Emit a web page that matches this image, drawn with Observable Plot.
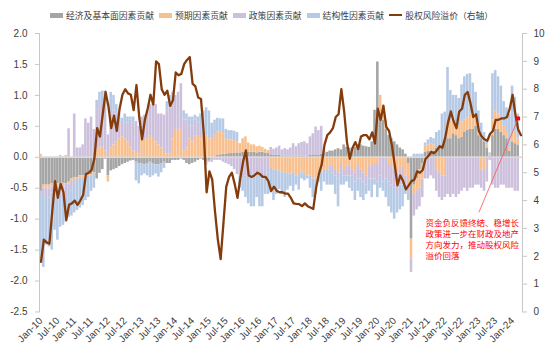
<!DOCTYPE html>
<html><head><meta charset="utf-8">
<script src="https://cdn.jsdelivr.net/npm/d3@7"></script>
<script src="https://cdn.jsdelivr.net/npm/@observablehq/plot@0.6"></script>
<style>
body{margin:0;background:#fff;}
#legend{height:22px;box-sizing:border-box;padding-top:8px;padding-left:50px;display:flex;align-items:center;font-family:"Noto Sans CJK SC",sans-serif;font-size:8.8px;color:#404040;white-space:nowrap;}
#legend .item{display:flex;align-items:center;margin-right:5px;}
#legend .sw{width:13px;height:5px;margin-right:3px;}
#legend .ln{width:13px;height:2px;margin-right:3px;}
</style></head><body>
<div id="legend"></div>
<div id="chart"></div>
<script>
// ---- categories / labels ----
const seriesNames = ["经济及基本面因素贡献","预期因素贡献","政策因素贡献","结构性因素贡献"];
const seriesColors = ["#a5a5a5","#f9c08f","#cdc0dd","#b6cae6"];
const lineName = "股权风险溢价（右轴）";
const lineColor = "#843c0c";
const startYear = 2010;
const monthAbbr = ["Jan","Feb","Mar","Apr","May","Jun","Jul","Aug","Sep","Oct","Nov","Dec"];
const monthCount = 172;
const leftTicks = [-2.5,-2.0,-1.5,-1.0,-0.5,0.0,0.5,1.0,1.5,2.0];
const rightTicks = [0,1,2,3,4,5,6,7,8,9,10];

// ---- series values (monthly, from Jan-10) ----
const gray = [
-0.55,-0.45,-0.45,-0.45,-0.43,-0.45,-0.43,-0.42,-0.42,-0.43,-0.40,-0.35,
-0.33,-0.33,-0.30,-0.30,-0.30,-0.28,-0.28,-0.25,-0.35,-0.26,-0.20,-0.03,
-0.30,-0.22,-0.20,-0.18,-0.15,-0.12,-0.10,-0.08,-0.06,-0.05,-0.08,-0.10,
-0.10,-0.12,-0.10,-0.08,-0.10,-0.12,-0.12,-0.10,-0.08,-0.10,-0.10,-0.05,
-0.05,-0.05,-0.03,-0.05,-0.10,-0.12,-0.10,-0.08,-0.05,-0.03,-0.05,-0.08,
-0.05,-0.03,0.00,0.03,0.04,0.05,0.05,0.06,0.06,0.07,0.07,0.07,
0.08,0.08,0.08,0.08,0.08,0.07,0.08,0.08,0.07,0.06,0.04,0.03,
0.03,0.03,0.02,0.02,0.02,-0.02,0.02,0.02,0.02,0.02,-0.03,0.02,
0.03,0.03,0.04,0.03,0.05,0.06,0.08,0.10,0.10,0.12,0.14,0.12,
0.20,0.16,0.15,0.14,0.16,0.20,0.20,0.18,0.17,0.16,0.25,0.76,
1.54,0.70,0.60,0.45,0.35,0.30,0.25,0.20,0.15,0.12,0.05,-0.10,
-1.32,-0.45,-0.35,-0.20,-0.10,0.08,0.10,0.10,0.10,0.15,0.18,0.20,
0.28,0.30,0.30,0.38,0.35,0.30,0.32,0.40,0.44,0.45,0.45,0.50,
0.35,0.30,0.25,0.15,0.02,0.35,0.45,0.45,0.40,0.35,0.30,0.10,
0.25,0.22,0.20];
const orange = [
0.05,-0.05,-0.05,-0.06,-0.05,-0.03,-0.03,0.03,-0.04,0.03,-0.03,-0.04,
-0.03,-0.03,-0.03,-0.03,-0.03,-0.03,-0.03,-0.03,0.12,0.15,0.17,0.10,
-0.10,0.15,0.20,0.25,0.30,0.33,0.30,0.25,0.15,0.10,0.08,0.05,
0.30,0.28,0.30,0.35,0.32,0.25,0.20,0.15,0.08,0.05,0.05,0.30,
0.45,0.45,0.45,0.10,0.15,0.30,0.25,0.35,0.35,0.30,0.35,0.35,
0.30,0.30,0.35,0.38,0.38,0.35,0.25,0.22,0.22,0.20,0.18,0.15,
0.22,0.25,0.15,0.12,0.12,0.10,0.10,0.08,0.06,0.05,-0.18,-0.20,
-0.20,-0.22,-0.25,-0.25,-0.28,-0.25,-0.25,-0.30,-0.28,-0.25,-0.25,-0.30,
-0.30,-0.35,-0.35,-0.30,-0.25,-0.20,-0.20,-0.15,-0.15,-0.20,-0.25,-0.10,
-0.20,-0.15,-0.15,-0.20,-0.25,-0.15,-0.20,-0.25,-0.30,-0.15,-0.15,-0.10,
-0.10,0.30,0.25,0.15,-0.10,-0.15,-0.20,-0.25,-0.20,-0.15,-0.30,-0.35,
-0.32,-0.15,-0.20,-0.30,-0.25,0.10,0.10,0.12,0.10,-0.20,-0.25,-0.30,
-0.30,0.25,0.28,0.22,0.20,0.20,0.25,0.20,0.20,0.25,0.20,0.15,
0.15,-0.20,-0.20,0.05,0.02,0.25,0.30,0.25,0.20,0.15,0.10,0.05,
0.15,0.20,0.10];
const purple = [
-0.05,-0.10,-0.15,-0.15,-0.10,-0.15,-0.20,-0.20,-0.20,-0.25,0.46,-0.15,
0.70,0.15,0.15,0.20,0.62,0.55,0.65,0.45,0.64,0.75,0.70,0.80,
0.36,0.55,0.55,0.45,0.30,0.25,0.25,0.30,0.45,0.45,0.50,0.45,
0.35,0.40,0.45,0.50,0.55,0.60,0.50,0.55,0.60,0.70,0.75,0.65,
0.50,0.60,0.74,0.50,0.45,0.20,0.25,0.25,0.20,0.10,0.05,-0.05,
-0.03,-0.05,-0.05,-0.05,-0.05,-0.08,-0.10,-0.12,-0.15,-0.20,-0.28,-0.30,
-0.35,-0.30,-0.30,-0.30,-0.25,-0.25,-0.30,-0.35,-0.30,-0.25,0.12,0.10,
0.12,0.15,0.10,0.12,0.10,0.15,0.20,0.15,0.20,0.22,0.25,0.20,
0.30,0.35,0.45,0.40,0.45,0.05,-0.05,-0.05,-0.10,-0.10,-0.10,-0.15,
-0.10,-0.15,-0.15,-0.10,-0.15,-0.20,-0.15,-0.15,-0.15,-0.20,-0.20,-0.25,
-0.30,-0.30,-0.40,-0.35,-0.30,-0.30,-0.30,-0.35,-0.25,-0.30,-0.20,-0.15,
-0.22,-0.35,-0.30,-0.30,-0.30,-0.35,-0.35,-0.30,-0.35,-0.35,-0.40,-0.40,
-0.35,-0.60,-0.65,-0.60,-0.65,-0.60,-0.55,-0.50,-0.55,-0.50,-0.50,-0.45,
-0.45,-0.30,-0.35,-0.40,-0.05,-0.45,-0.50,-0.50,-0.45,-0.45,-0.50,-0.50,
-0.50,-0.55,-0.55];
const blue = [
-1.07,-1.18,-0.77,-0.79,-0.92,-0.55,-0.68,-0.51,-0.44,-0.37,-0.54,-0.41,
-0.54,-0.50,-0.49,-0.45,-0.37,-0.34,-0.24,-0.22,0.16,0.15,0.20,0.17,
0.00,0.35,0.25,0.15,0.10,0.05,0.15,0.10,0.05,0.10,-0.30,-0.33,
-0.20,-0.15,-0.20,-0.25,-0.20,-0.15,-0.20,-0.15,-0.10,0.15,0.20,0.10,
0.05,0.00,0.00,0.15,0.10,0.15,0.15,0.08,0.10,0.30,0.35,0.45,
0.45,0.25,0.25,0.22,0.20,0.22,0.15,0.15,0.15,0.15,0.15,-0.20,
-0.20,-0.35,-0.45,-0.50,-0.55,-0.40,-0.50,-0.45,-0.30,-0.35,-0.40,-0.50,
-0.40,-0.30,-0.35,-0.40,-0.25,-0.20,-0.30,-0.15,-0.25,-0.10,-0.10,-0.05,
-0.20,-0.30,-0.25,-0.10,-0.30,-0.20,-0.20,-0.25,-0.20,-0.30,-0.45,-0.20,
-0.15,-0.10,-0.20,-0.25,-0.30,-0.20,-0.30,-0.30,-0.15,-0.20,-0.30,-0.10,
-0.25,-0.20,-0.15,-0.30,-0.40,-0.45,-0.50,-0.30,-0.40,-0.35,-0.10,-0.10,
0.00,0.05,0.05,0.05,0.05,0.05,0.08,0.10,0.10,0.25,0.25,0.50,
0.45,0.90,0.50,0.40,0.45,0.45,0.60,0.70,0.70,0.65,0.55,0.40,
0.25,0.25,0.15,0.08,0.03,0.75,0.65,0.60,0.55,0.40,0.40,0.55,
0.75,0.55,0.40];
// equity risk premium (right axis, %)
const erp = [
1.8,2.6,2.5,2.45,3.6,4.7,4.1,4.6,4.3,3.3,3.85,3.9,
4.0,3.85,4.0,4.2,4.95,5.0,5.1,5.5,6.6,6.3,7.1,7.9,
7.4,6.6,7.05,6.5,7.3,7.8,8.0,7.85,7.8,7.25,8.15,7.0,
6.2,6.9,7.3,7.8,7.45,9.0,8.9,8.0,7.8,7.95,7.4,7.6,
8.6,8.5,8.55,8.9,9.05,9.15,8.2,8.1,7.7,7.65,6.4,4.3,
5.05,4.75,3.6,2.6,1.9,3.2,4.5,4.85,5.0,4.6,4.1,4.8,
5.4,5.8,4.9,4.85,4.9,5.0,4.95,4.85,4.85,4.7,4.35,4.5,
4.35,4.3,4.3,4.25,4.25,4.1,3.9,3.88,3.87,3.8,3.9,3.8,
3.75,3.7,4.45,4.95,5.3,6.0,6.35,6.45,6.6,7.0,7.1,8.0,
7.2,6.1,5.5,5.9,6.1,5.85,6.3,6.35,6.35,6.2,6.45,6.05,
7.3,6.9,7.4,6.65,6.5,6.0,5.3,4.55,4.9,4.7,4.4,4.55,
4.7,4.75,5.05,5.0,5.1,5.5,5.6,5.75,5.7,5.8,5.95,5.9,
6.25,6.8,7.2,6.85,6.6,7.2,7.3,7.8,7.9,7.5,7.0,7.1,
6.5,6.3,6.2,6.15,6.4,6.5,6.9,6.9,6.95,6.95,7.0,7.3,
7.8,7.1,6.55,6.35];

// ---- annotation (data coordinates) ----
const annLines = ["资金负反馈终结、稳增长","政策进一步在财政及地产","方向发力，推动股权风险","溢价回落"];
const annTextAt = {month: "Jun-21", y: -1.32};
const annArrowFrom = {month: "Jan-23", y: -0.89};
const annArrowTo = {month: "Mar-24", erp: 6.95};

// ---- build tables ----
const months = d3.range(monthCount).map(k => monthAbbr[k % 12] + "-" + String((startYear + Math.floor(k / 12)) % 100).padStart(2, "0"));
const tickMonths = months.filter((_, k) => k % 6 === 0);
const seriesValues = [gray, orange, purple, blue];
const barData = [];
months.forEach((m, k) => {
  seriesValues.forEach((arr, s) => {
    if (k < arr.length) barData.push({month: m, series: seriesNames[s], value: arr[k]});
  });
});
const lineData = erp.map((v, k) => ({month: months[k], value: v}));
const toLeft = d3.scaleLinear().domain([0, 10]).range([-2.5, 2]);

// ---- legend ----
const legend = document.getElementById("legend");
seriesNames.forEach((n, s) => {
  legend.insertAdjacentHTML("beforeend", `<div class="item"><div class="sw" style="background:${seriesColors[s]}"></div><span>${n}</span></div>`);
});
legend.insertAdjacentHTML("beforeend", `<div class="item"><div class="ln" style="background:${lineColor}"></div><span>${lineName}</span></div>`);

const font = "'Liberation Sans', Arial, sans-serif";
const chart = Plot.plot({
  width: 550, height: 337,
  marginTop: 11, marginBottom: 47.5, marginLeft: 39, marginRight: 28,
  style: {fontFamily: font, fontSize: "10px", color: "#404040", background: "#fff"},
  x: {type: "band", domain: months, padding: 0.08, axis: null},
  y: {domain: [-2.5, 2], axis: null},
  color: {domain: seriesNames, range: seriesColors},
  marks: [
    Plot.barY(barData, {x: "month", y: "value", fill: "series"}),
    Plot.ruleY([0], {stroke: "#d9d9d9", strokeWidth: 1.5}),
    Plot.frame({anchor: "left", stroke: "#c8c8c8"}),
    Plot.frame({anchor: "right", stroke: "#c8c8c8"}),
    Plot.line(lineData, {x: "month", y: d => toLeft(d.value), stroke: lineColor, strokeWidth: 2.3, strokeLinejoin: "round"}),
    Plot.axisX({ticks: tickMonths, tickRotate: -45, tickSize: 0, tickPadding: 7, label: null, fill: "#404040"}),
    Plot.axisY({ticks: leftTicks, anchor: "left", tickFormat: d => d.toFixed(1), tickSize: 4, tickPadding: 8, label: null, stroke: "#c8c8c8", fill: "#404040"}),
    Plot.axisY(rightTicks, {anchor: "right", y: d => toLeft(d), tickFormat: d => String(d), tickSize: 4, tickPadding: 7, label: null, stroke: "#c8c8c8", fill: "#404040"}),
    Plot.link([{a: annArrowFrom, b: annArrowTo}], {x1: d => d.a.month, y1: d => d.a.y, x2: d => d.b.month, y2: d => toLeft(d.b.erp), stroke: "#ff5050", strokeWidth: 0.8}),
    Plot.dot([annArrowTo], {x: "month", y: d => toLeft(d.erp), symbol: "square", r: 2.2, fill: "#ff0000", stroke: "none"}),
    Plot.text([annTextAt], {x: "month", y: "y", text: () => annLines.join("\n"), textAnchor: "start", lineAnchor: "middle", lineHeight: 1.3, fill: "#ff0000", fontSize: 8.5, fontFamily: "'Noto Sans CJK SC', sans-serif"})
  ]
});
document.getElementById("chart").appendChild(chart);
</script>
</body></html>
